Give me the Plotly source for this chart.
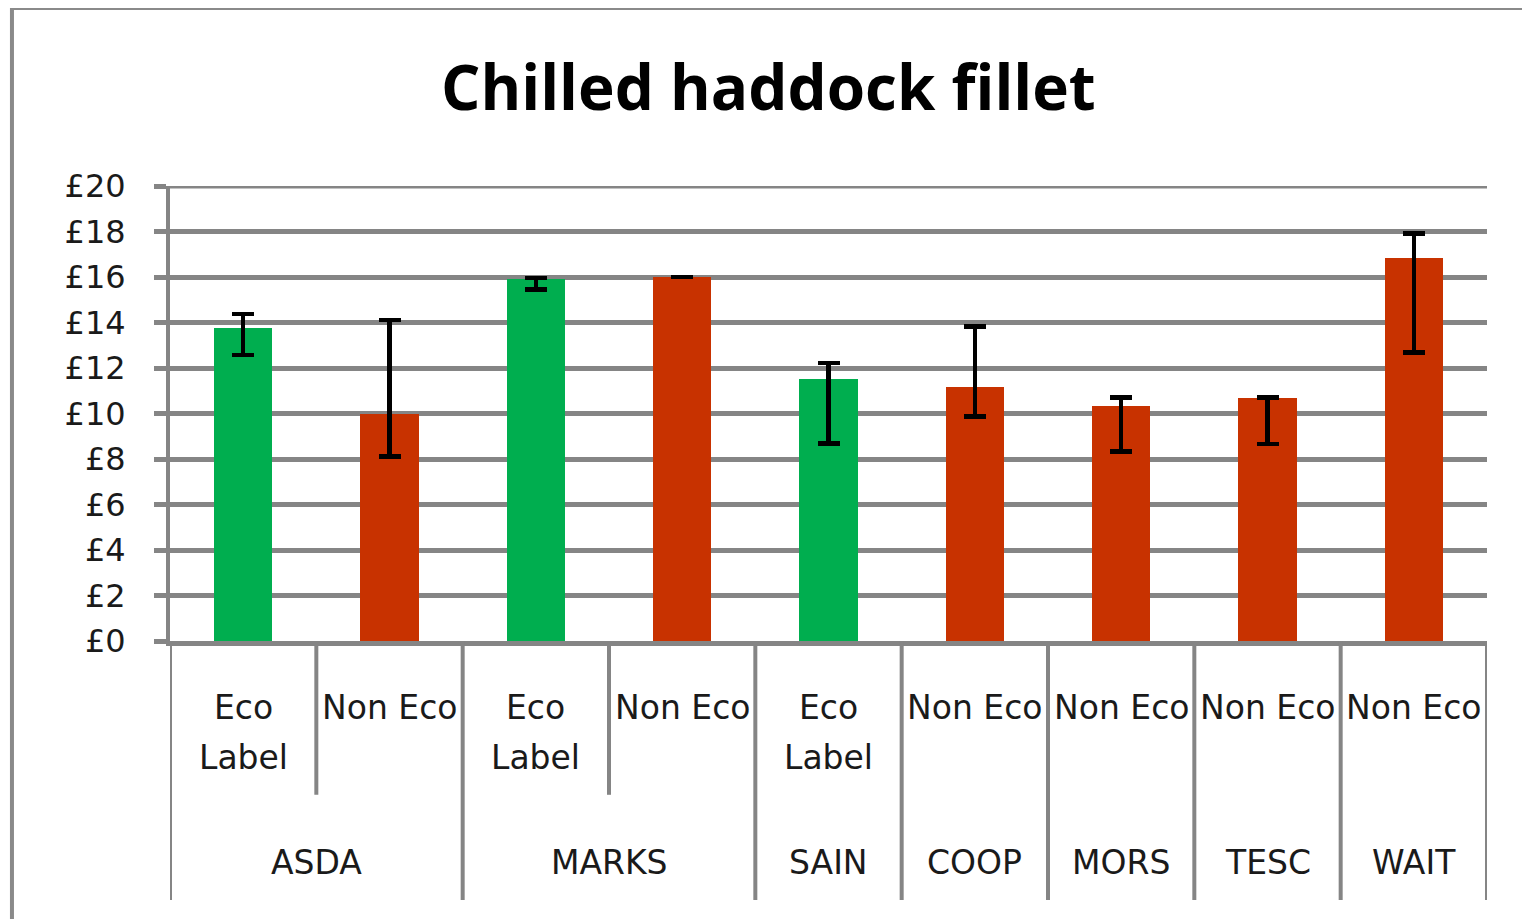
import plotly.graph_objects as go

groups = ["ASDA", "ASDA", "MARKS", "MARKS", "SAIN", "COOP", "MORS", "TESC", "WAIT"]
sub_labels = [("Eco", "Label"), ("Non Eco",), ("Eco", "Label"), ("Non Eco",), ("Eco", "Label"),
              ("Non Eco",), ("Non Eco",), ("Non Eco",), ("Non Eco",)]
eco = [True, False, True, False, True, False, False, False, False]
prices = [13.77, 9.96, 15.9, 16.0, 11.5, 11.15, 10.33, 10.68, 16.82]
err_plus = [0.6, 4.15, 0.05, 0.0, 0.73, 2.67, 0.37, 0.02, 1.1]
err_minus = [1.2, 1.86, 0.45, 0.0, 2.81, 1.29, 2.01, 2.02, 4.13]
y_ticks = [0, 2, 4, 6, 8, 10, 12, 14, 16, 18, 20]
y_tick_labels = ["£" + str(v) for v in y_ticks]

GREEN = "#00AE4F"
RED = "#C83200"
GRID = "#858585"
FONT = "DejaVu Sans"
TXT = "#1a1a1a"

xs = list(range(len(prices)))
colors = [GREEN if e else RED for e in eco]

fig = go.Figure()
fig.add_trace(go.Bar(
    x=xs, y=prices, width=0.4,
    marker=dict(color=colors, line=dict(width=0)),
    error_y=dict(type="data", symmetric=False, array=err_plus, arrayminus=err_minus,
                 color="black", thickness=4.5, width=11),
    showlegend=False,
))

annotations = []
for i, lines in enumerate(sub_labels):
    for j, line in enumerate(lines):
        annotations.append(dict(
            x=i, y=-0.147 - 0.11 * j, xref="x", yref="paper", text=line,
            showarrow=False, xanchor="center", yanchor="middle",
            font=dict(family=FONT, size=33, color=TXT)))

shapes = []
start = 0
bounds = []
for i in range(1, len(groups) + 1):
    if i == len(groups) or groups[i] != groups[start]:
        annotations.append(dict(
            x=(start + i - 1) / 2, y=-0.486, xref="x", yref="paper", text=groups[start],
            showarrow=False, xanchor="center", yanchor="middle",
            font=dict(family=FONT, size=33, color=TXT)))
        bounds.append(start - 0.5)
        start = i
bounds.append(len(groups) - 0.5)
for b in bounds:
    shapes.append(dict(type="line", xref="x", yref="paper", x0=b, x1=b, y0=0, y1=-0.569,
                       line=dict(color=GRID, width=4)))
for i in range(1, len(groups)):
    if groups[i] == groups[i - 1]:
        shapes.append(dict(type="line", xref="x", yref="paper", x0=i - 0.5, x1=i - 0.5,
                           y0=0, y1=-0.338, line=dict(color=GRID, width=4)))

# top gridline (at the end of the range)
shapes.append(dict(type="line", xref="paper", yref="y", x0=-0.0091, x1=1,
                   y0=y_ticks[-1], y1=y_ticks[-1], line=dict(color=GRID, width=5), layer="below"))

# outer chart border
shapes.append(dict(type="rect", xref="paper", yref="paper", x0=-0.12, x1=1.04, y0=-0.63, y1=1.391,
                   line=dict(color="#8a8a8a", width=4), fillcolor="rgba(0,0,0,0)", layer="below"))

fig.update_layout(
    width=1530, height=919,
    margin=dict(l=162, r=51, t=178, b=286),
    paper_bgcolor="white", plot_bgcolor="white",
    title=dict(text="<b>Chilled haddock fillet</b>", x=0.497, xanchor="center",
               y=0.913, yanchor="middle",
               font=dict(family="Open Sans", size=62, color="black")),
    xaxis=dict(range=[-0.5, 8.5], showticklabels=False, showgrid=False, zeroline=False,
               showline=True, linecolor=GRID, linewidth=5, ticks=""),
    yaxis=dict(range=[0, 20], tickvals=y_ticks, ticktext=y_tick_labels,
               showgrid=True, gridcolor=GRID, gridwidth=5,
               showline=True, linecolor=GRID, linewidth=4,
               ticks="outside", ticklen=12, tickwidth=5, tickcolor=GRID,
               ticklabelstandoff=22,
               zeroline=False,
               tickfont=dict(family=FONT, size=32, color=TXT)),
    annotations=annotations,
    shapes=shapes,
    bargap=0,
)

fig.write_html("out.html")
